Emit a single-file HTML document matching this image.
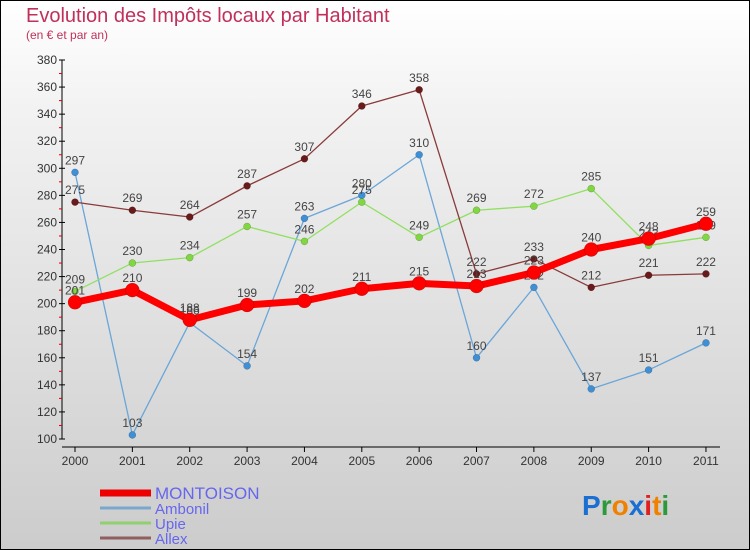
<!DOCTYPE html>
<html><head><meta charset="utf-8"><style>
body{margin:0;}
#wrap{width:750px;height:550px;position:relative;overflow:hidden;box-sizing:border-box;border:1px solid #000;background:linear-gradient(#ffffff,#f2f2f2 20%,#cccccc);font-family:"Liberation Sans",sans-serif;}
</style></head><body>
<div id="wrap">
<svg id="chart" width="750" height="550" style="position:absolute;left:-1px;top:-1px"></svg>
</div>
<script>
const years=["2000","2001","2002","2003","2004","2005","2006","2007","2008","2009","2010","2011"];
const montoison=[201,210,188,199,202,211,215,213,223,240,248,259];
const ambonil=[297,103,186,154,263,280,310,160,212,137,151,171];
const upie=[209,230,234,257,246,275,249,269,272,285,243,249];
const allex=[275,269,264,287,307,346,358,222,233,212,221,222];
const yTicks=[100,120,140,160,180,200,220,240,260,280,300,320,340,360,380];
const NS="http://www.w3.org/2000/svg";
const svg=document.getElementById('chart');
function X(i){return 75+i*57.36;}
function Y(v){return 439-(v-100)*(379/280);}
function el(t,a,p){const e=document.createElementNS(NS,t);for(const k in a)e.setAttribute(k,a[k]);(p||svg).appendChild(e);return e;}
let t=el('text',{x:26,y:22,'font-size':20,fill:'#c0305a'});t.textContent='Evolution des Impôts locaux par Habitant';

t=el('text',{x:26,y:39,'font-size':12,fill:'#c0305a'});t.textContent='(en € et par an)';

const ax=el('g',{});
el('line',{x1:62,y1:Y(380),x2:62,y2:Y(100),stroke:'#000'},ax);
yTicks.forEach((v,i)=>{
 el('line',{x1:59,y1:Y(v),x2:65,y2:Y(v),stroke:'#000'},ax);
 if(i<yTicks.length-1)el('line',{x1:59,y1:Y(v+10),x2:62,y2:Y(v+10),stroke:'#d00'},ax);
 const tx=el('text',{x:57,y:Y(v)+4,'font-size':12,fill:'#333','text-anchor':'end'},ax);tx.textContent=v;
});
const xa=el('g',{});
el('line',{x1:62,y1:447,x2:720,y2:447,stroke:'#000'},xa);
years.forEach((y,i)=>{el('line',{x1:X(i),y1:447,x2:X(i),y2:452,stroke:'#000'},xa);
 const tx=el('text',{x:X(i),y:465,'font-size':12,fill:'#333','text-anchor':'middle'},xa);tx.textContent=y;});
function series(data,color,dot,w,r,name){
 const g=el('g',{});
 el('polyline',{points:data.map((v,i)=>X(i)+','+Y(v)).join(' '),fill:'none',stroke:color,'stroke-width':w,'stroke-linejoin':'round'},g);
 data.forEach((v,i)=>{const c=el('circle',{cx:X(i),cy:Y(v),r:r,fill:dot,stroke:'rgba(0,0,0,0.3)','stroke-width':0.5},g);
  
  const tx=el('text',{x:X(i),y:Y(v)-8,'font-size':12,fill:'#444','text-anchor':'middle'},g);tx.textContent=v;});
}
series(ambonil,'#6aa6d8','#3f8fd6',1.3,3.5,'series-ambonil');
series(upie,'#90e060','#80d840',1.3,3.5,'series-upie');
series(allex,'#8a3a3a','#6a1a1a',1.3,3.5,'series-allex');
series(montoison,'#ff0000','#ff0000',7,7,'series-montoison');
const leg=[['MONTOISON','#ee0000',7],['Ambonil','#7aa8cc',3],['Upie','#90d070',3],['Allex','#906060',3]];
leg.forEach((l,i)=>{const g=el('g',{});
 const y=[493,508,523,538][i];
 el('line',{x1:100,y1:y,x2:151,y2:y,stroke:l[1],'stroke-width':l[2]},g);
 const tx=el('text',{x:155,y:y+6,'font-size':i==0?17:15,fill:'#6666ee'},g);tx.textContent=l[0];});
const lg=el('text',{x:582,y:515,'font-size':28,'font-weight':'bold'});
[['P','#1a6fd0'],['r','#2a9a3a'],['o','#f08000'],['x','#1a6fd0'],['i','#e02020'],['t','#f08000'],['i','#2a9a3a']].forEach(c=>{const s=el('tspan',{fill:c[1]},lg);s.textContent=c[0];});
</script>
</body></html>
